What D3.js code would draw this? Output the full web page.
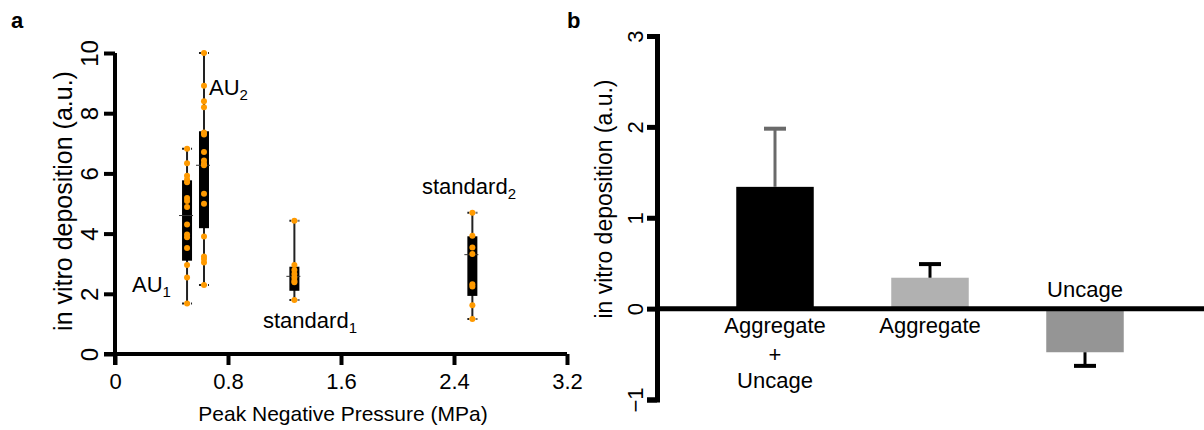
<!DOCTYPE html>
<html>
<head>
<meta charset="utf-8">
<script src="https://cdn.jsdelivr.net/npm/d3@7"></script>
<style>
  html, body { margin: 0; padding: 0; background: #fff; }
  svg { display: block; font-family: "Liberation Sans", Arial, sans-serif; }
</style>
</head>
<body>
<svg id="chart" width="1204" height="430"></svg>
<script>
// ---- Panel a: deposition vs peak negative pressure ----
const groupNames = ["AU1", "AU2", "standard1", "standard2"];
const groupPressure = [0.51, 0.63, 1.27, 2.53];
const au1Values = [6.82, 6.34, 5.92, 5.80, 5.71, 5.18, 5.08, 4.88, 4.30, 3.97, 3.88, 3.52, 2.96, 2.54, 1.68];
const au2Values = [10.0, 8.91, 8.40, 8.20, 7.36, 7.29, 6.71, 6.43, 6.32, 6.27, 5.32, 4.99, 3.90, 3.24, 3.16, 3.04, 2.29];
const std1Values = [4.43, 2.96, 2.79, 2.66, 2.54, 2.43, 2.38, 1.79];
const std2Values = [4.69, 3.93, 3.54, 3.32, 2.32, 2.24, 1.62, 1.16];
const boxQ1 = [3.10, 4.18, 2.10, 1.93];
const boxMedian = [4.60, 6.27, 2.58, 3.30];
const boxQ3 = [5.77, 7.40, 2.90, 3.91];
const xTicksA = [0, 0.8, 1.6, 2.4, 3.2];
const yTicksA = [0, 2, 4, 6, 8, 10];

// ---- Panel b: bar chart with error bars ----
const barCategories = ["Aggregate + Uncage", "Aggregate", "Uncage"];
const barMeans = [1.34, 0.34, -0.48];
const barErrors = [0.64, 0.15, 0.15];
const barColors = ["#000000", "#b1b1b1", "#959595"];
const errColors = ["#6a6a6a", "#000000", "#000000"];
const yTicksB = [-1, 0, 1, 2, 3];

const svg = d3.select("#chart");
const groupValues = [au1Values, au2Values, std1Values, std2Values];
const FONT = 22;
const FAMILY = "'Liberation Sans', Arial, sans-serif";

// ================= Panel a =================
const xA = d3.scaleLinear().domain([0, 3.2]).range([115, 567]);
const yA = d3.scaleLinear().domain([0, 10]).range([354, 53]);

svg.append("text").attr("x", 11).attr("y", 28)
  .attr("font-size", 22).attr("font-weight", "bold").text("a");

const gA = svg.append("g");

// axes
const xAxisA = d3.axisBottom(xA).tickValues(xTicksA)
  .tickFormat(d => d === 0 ? "0" : d3.format(".1f")(d)).tickSizeOuter(0).tickSize(11).tickPadding(0);
const gxA = gA.append("g").attr("transform", `translate(0,${yA(0)})`).call(xAxisA);
gxA.select(".domain").attr("d", `M${xA(0) - 11},0H${xA(3.2)}`);
gxA.selectAll(".tick text").attr("y", 35).attr("dy", null);

const yAxisA = d3.axisLeft(yA).tickValues(yTicksA).tickSizeOuter(0).tickSize(11).tickFormat(d3.format("d"));
const gyA = gA.append("g").attr("transform", `translate(${xA(0)},0)`).call(yAxisA);
gyA.select(".domain").attr("d", `M0,${yA(10)}V${yA(0) + 11}`);
gyA.selectAll(".tick text")
  .attr("x", 0).attr("y", 0).attr("dx", null).attr("dy", null)
  .attr("text-anchor", "middle")
  .attr("transform", "translate(-17,0) rotate(-90)");

[gxA, gyA].forEach(g => {
  g.select(".domain").attr("stroke", "#000").attr("stroke-width", 4);
  g.selectAll(".tick line").attr("stroke", "#000").attr("stroke-width", 4);
  g.selectAll(".tick text").attr("font-size", FONT).attr("fill", "#000").attr("font-family", FAMILY);
});
gyA.selectAll(".tick text").attr("font-size", 24);

// axis titles
gA.append("text").attr("x", 343).attr("y", 421).attr("text-anchor", "middle")
  .attr("font-size", 21).text("Peak Negative Pressure (MPa)");
gA.append("text").attr("transform", `translate(72,201) rotate(-90)`)
  .attr("text-anchor", "middle").attr("font-size", 25).text("in vitro deposition (a.u.)");

// box plots
const boxW = 10;
groupValues.forEach((vals, i) => {
  const cx = xA(groupPressure[i]);
  const lo = d3.min(vals), hi = d3.max(vals);
  const g = gA.append("g");
  g.append("line").attr("x1", cx).attr("x2", cx).attr("y1", yA(hi)).attr("y2", yA(lo))
    .attr("stroke", "#222").attr("stroke-width", 2);
  [lo, hi].forEach(v => {
    g.append("line").attr("x1", cx - 5).attr("x2", cx + 5).attr("y1", yA(v)).attr("y2", yA(v))
      .attr("stroke", "#222").attr("stroke-width", 2).attr("stroke-dasharray", "2,1");
  });
  g.append("rect").attr("x", cx - boxW / 2).attr("width", boxW)
    .attr("y", yA(boxQ3[i])).attr("height", yA(boxQ1[i]) - yA(boxQ3[i]))
    .attr("fill", "#000");
  g.append("line").attr("x1", cx - boxW / 2 - 3).attr("x2", cx + boxW / 2 + 1)
    .attr("y1", yA(boxMedian[i])).attr("y2", yA(boxMedian[i]))
    .attr("stroke", "#333").attr("stroke-width", 1);
  g.selectAll("circle").data(vals).join("circle")
    .attr("cx", cx).attr("cy", d => yA(d)).attr("r", 3)
    .attr("fill", "#ff9a00");
});

// group labels with subscripts
function subLabel(x, y, main, sub) {
  const t = gA.append("text").attr("x", x).attr("y", y).attr("font-size", FONT);
  t.append("tspan").text(main);
  t.append("tspan").attr("font-size", 15).attr("dy", 5).text(sub);
}
subLabel(132, 292, "AU", "1");
subLabel(209, 95, "AU", "2");
subLabel(263, 328, "standard", "1");
subLabel(422, 194, "standard", "2");

// ================= Panel b =================
svg.append("text").attr("x", 567).attr("y", 28)
  .attr("font-size", 22).attr("font-weight", "bold").text("b");

const gB = svg.append("g");
const yB = d3.scaleLinear().domain([-1, 3]).range([399.5, 36]);
const xB = d3.scaleBand().domain(barCategories).range([697.5, 1162.5])
  .paddingInner(0.5).paddingOuter(0.25);
const axisXB = 657;

// bars
barCategories.forEach((c, i) => {
  const v = barMeans[i];
  gB.append("rect").attr("x", xB(c)).attr("width", xB.bandwidth())
    .attr("y", yB(Math.max(0, v))).attr("height", Math.abs(yB(v) - yB(0)))
    .attr("fill", barColors[i]);
  const cx = xB(c) + xB.bandwidth() / 2;
  const tip = v + Math.sign(v) * barErrors[i];
  gB.append("line").attr("x1", cx).attr("x2", cx).attr("y1", yB(v)).attr("y2", yB(tip))
    .attr("stroke", errColors[i]).attr("stroke-width", 3);
  gB.append("line").attr("x1", cx - 11).attr("x2", cx + 11).attr("y1", yB(tip)).attr("y2", yB(tip))
    .attr("stroke", errColors[i]).attr("stroke-width", 4);
});

// zero line
gB.append("line").attr("x1", axisXB).attr("x2", 1204).attr("y1", yB(0)).attr("y2", yB(0))
  .attr("stroke", "#000").attr("stroke-width", 5);

// y axis
const yAxisB = d3.axisLeft(yB).tickValues(yTicksB).tickSizeOuter(0).tickSize(10).tickFormat(d3.format("d"));
const gyB = gB.append("g").attr("transform", `translate(${axisXB},0)`).call(yAxisB);
gyB.select(".domain").attr("stroke", "#000").attr("stroke-width", 5);
gyB.selectAll(".tick line").attr("stroke", "#000").attr("stroke-width", 5);
gyB.selectAll(".tick text")
  .attr("x", 0).attr("y", 0).attr("dy", null)
  .attr("text-anchor", "middle")
  .attr("transform", "translate(-14,0) rotate(-90)")
  .attr("font-size", FONT).attr("fill", "#000")
  .attr("font-family", FAMILY);

gB.append("text").attr("transform", `translate(612,199) rotate(-90)`)
  .attr("text-anchor", "middle").attr("font-size", 23).text("in vitro deposition (a.u.)");

// category labels
const c0 = xB(barCategories[0]) + xB.bandwidth() / 2;
const c1 = xB(barCategories[1]) + xB.bandwidth() / 2;
const c2 = xB(barCategories[2]) + xB.bandwidth() / 2;
[["Aggregate", 333], ["+", 362], ["Uncage", 388]].forEach(([t, y]) => {
  gB.append("text").attr("x", c0).attr("y", y).attr("text-anchor", "middle")
    .attr("font-size", FONT).text(t);
});
gB.append("text").attr("x", c1).attr("y", 333).attr("text-anchor", "middle")
  .attr("font-size", FONT).text("Aggregate");
gB.append("text").attr("x", c2).attr("y", 297).attr("text-anchor", "middle")
  .attr("font-size", FONT).text("Uncage");
</script>
</body>
</html>
